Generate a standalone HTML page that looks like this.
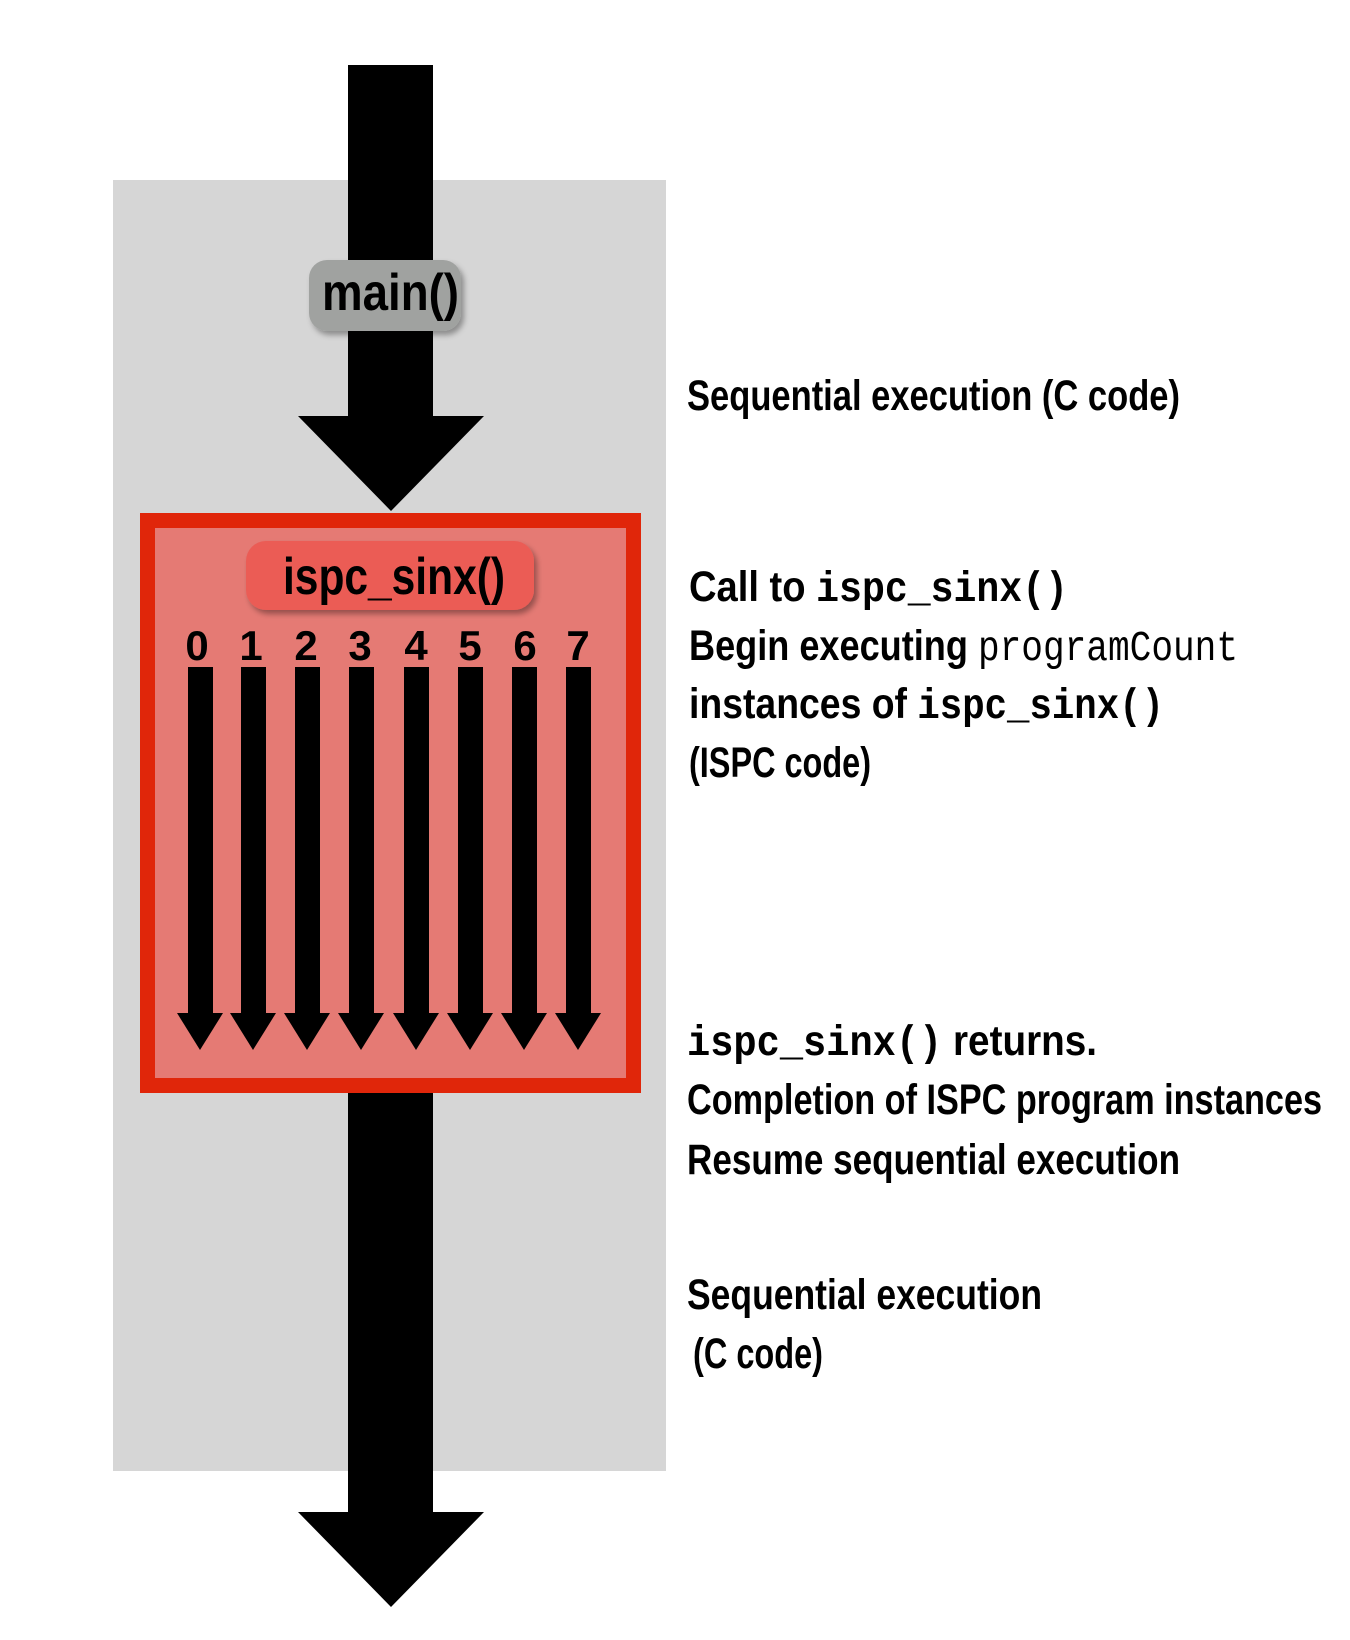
<!DOCTYPE html>
<html><head><style>html,body{margin:0;padding:0;background:#fff;}svg{display:block}</style></head>
<body>
<svg width="1350" height="1640" viewBox="0 0 1350 1640" xmlns="http://www.w3.org/2000/svg">
<defs>
<filter id="sh" x="-20%" y="-20%" width="140%" height="150%"><feDropShadow dx="3" dy="4" stdDeviation="3" flood-color="#000" flood-opacity="0.35"/></filter>
</defs>
<rect x="113" y="180" width="553" height="1291" fill="#d6d6d6"/>
<rect x="348" y="65" width="85" height="360" fill="#000"/>
<polygon points="298,416 484,416 391,511" fill="#000"/>
<rect x="348" y="1090" width="85" height="425" fill="#000"/>
<polygon points="298,1512 484,1512 391,1607" fill="#000"/>
<rect x="309" y="260" width="152" height="71" rx="18" fill="#a0a2a0" filter="url(#sh)"/>
<text x="322" y="310" font-family="Liberation Sans, sans-serif" font-weight="bold" font-size="52" textLength="137" lengthAdjust="spacingAndGlyphs">main()</text>
<rect x="147.5" y="520.5" width="486" height="565" fill="#e57a74" stroke="#e0260a" stroke-width="15"/>
<rect x="246" y="541" width="288" height="69" rx="20" fill="#eb5b55" filter="url(#sh)"/>
<text x="283" y="594" font-family="Liberation Sans, sans-serif" font-weight="bold" font-size="52" textLength="222" lengthAdjust="spacingAndGlyphs">ispc_sinx()</text>
<g font-family="Liberation Sans, sans-serif" font-weight="bold" font-size="42" text-anchor="middle">
<text x="197" y="660">0</text><text x="251" y="660">1</text><text x="306" y="660">2</text><text x="360" y="660">3</text><text x="416" y="660">4</text><text x="470" y="660">5</text><text x="525" y="660">6</text><text x="578" y="660">7</text>
</g>
<g fill="#000">
<rect x="188" y="667" width="25" height="348"/><polygon points="177,1013 223,1013 200,1050"/>
<rect x="241" y="667" width="25" height="348"/><polygon points="230,1013 276,1013 253,1050"/>
<rect x="295" y="667" width="25" height="348"/><polygon points="284,1013 330,1013 307,1050"/>
<rect x="349" y="667" width="25" height="348"/><polygon points="338,1013 384,1013 361,1050"/>
<rect x="404" y="667" width="25" height="348"/><polygon points="393,1013 439,1013 416,1050"/>
<rect x="458" y="667" width="25" height="348"/><polygon points="447,1013 493,1013 470,1050"/>
<rect x="512" y="667" width="25" height="348"/><polygon points="501,1013 547,1013 524,1050"/>
<rect x="566" y="667" width="25" height="348"/><polygon points="555,1013 601,1013 578,1050"/>
</g>
<g font-family="Liberation Sans, sans-serif" font-weight="bold" font-size="43">
<text x="687" y="410" textLength="493" lengthAdjust="spacingAndGlyphs">Sequential execution (C code)</text>
<text x="689" y="601" textLength="379" lengthAdjust="spacingAndGlyphs">Call to <tspan font-family="Liberation Mono, monospace">ispc_sinx()</tspan></text>
<text x="689" y="660" textLength="549" lengthAdjust="spacingAndGlyphs">Begin executing <tspan font-family="Liberation Mono, monospace" font-weight="normal">programCount</tspan></text>
<text x="689" y="718" textLength="475" lengthAdjust="spacingAndGlyphs">instances of <tspan font-family="Liberation Mono, monospace">ispc_sinx()</tspan></text>
<text x="689" y="777" textLength="182" lengthAdjust="spacingAndGlyphs">(ISPC code)</text>
<text x="687" y="1055" textLength="410" lengthAdjust="spacingAndGlyphs"><tspan font-family="Liberation Mono, monospace">ispc_sinx()</tspan> returns.</text>
<text x="687" y="1114" textLength="635" lengthAdjust="spacingAndGlyphs">Completion of ISPC program instances</text>
<text x="687" y="1174" textLength="493" lengthAdjust="spacingAndGlyphs">Resume sequential execution</text>
<text x="687" y="1309" textLength="355" lengthAdjust="spacingAndGlyphs">Sequential execution</text>
<text x="693" y="1368" textLength="130" lengthAdjust="spacingAndGlyphs">(C code)</text>
</g>
</svg>
</body></html>
